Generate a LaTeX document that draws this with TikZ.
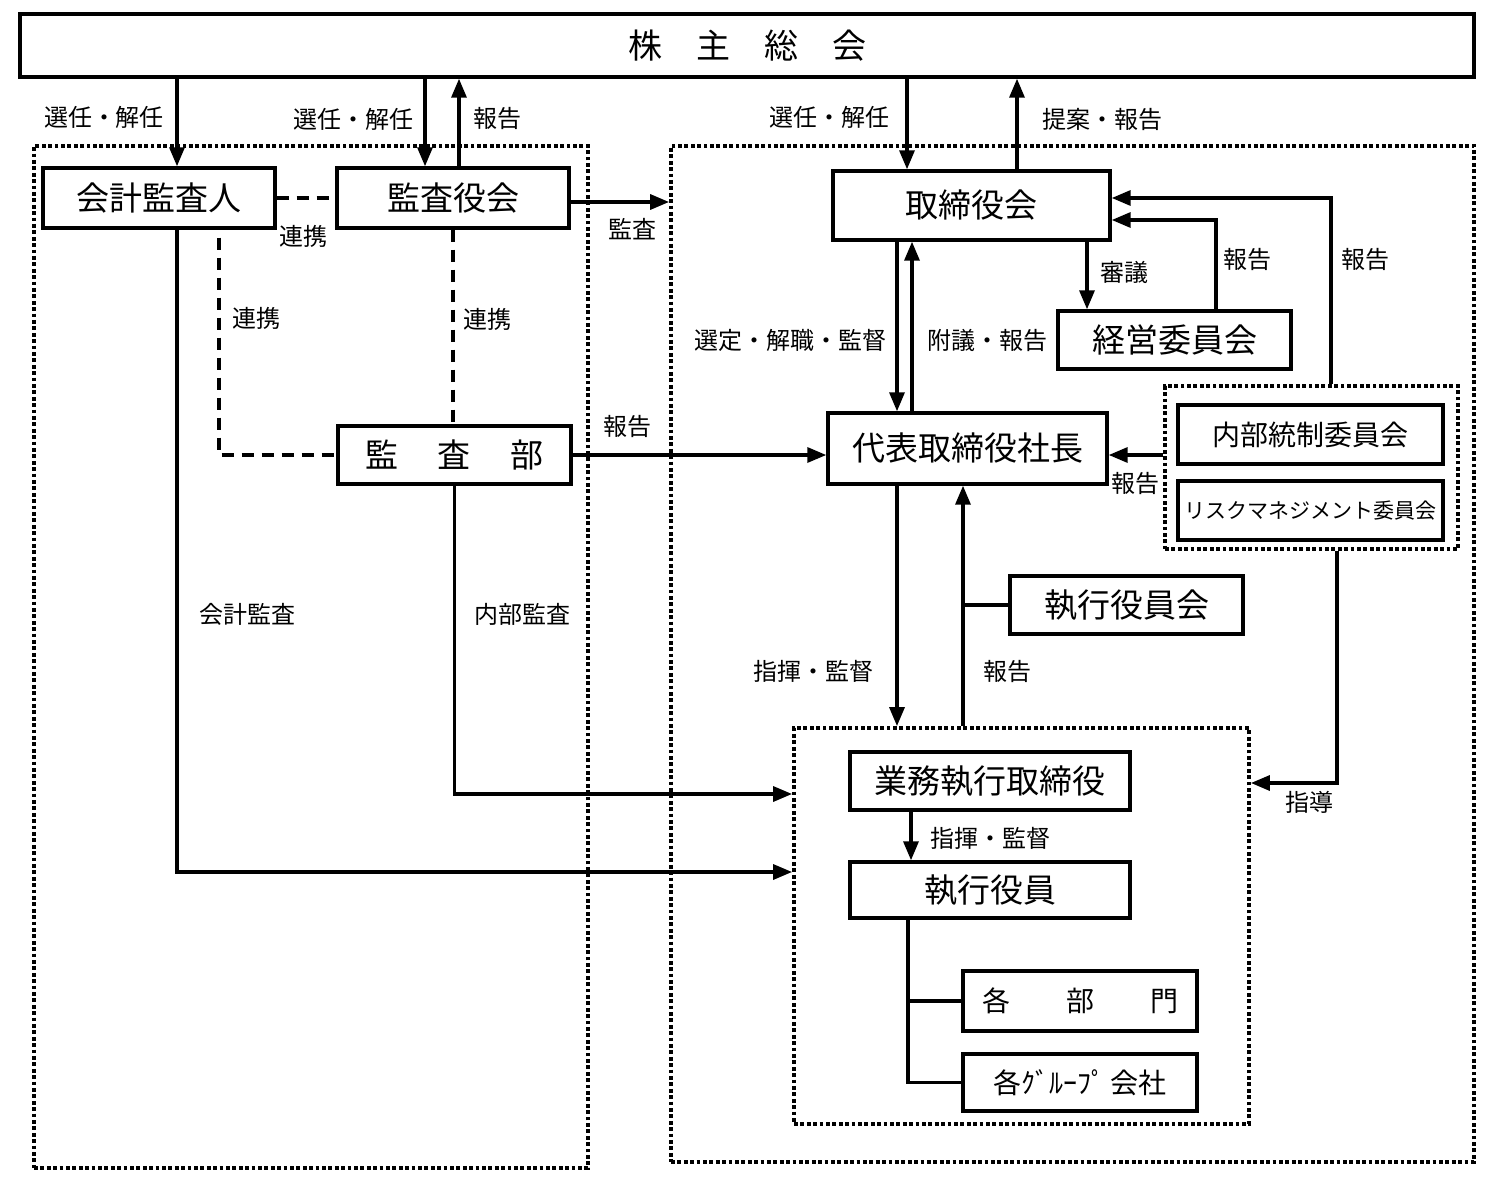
\documentclass[tikz,border=0pt]{standalone}
\usepackage{fontspec}
\setmainfont{Noto Sans CJK JP}
\usetikzlibrary{arrows.meta,calc}
\begin{document}
\begin{tikzpicture}[x=1pt,y=-1pt,
  box/.style n args={2}{draw, line width=3.4pt, minimum width=#1, minimum height=#2, inner sep=0pt, fill=white, font=\fontsize{33}{36}\selectfont},
  dotbox/.style n args={2}{draw, line width=3.8pt, dash pattern=on 3.8pt off 2.6pt, minimum width=#1, minimum height=#2, inner sep=0pt},
  lab/.style={font=\fontsize{24}{26}\selectfont, inner sep=0pt},
  conn/.style={line width=3.3pt},
  arr/.style={conn, -{Triangle[length=19pt,width=15pt]}},
  dashline/.style={line width=3.5pt, dash pattern=on 12pt off 8pt}
]
\fill[white] (0,0) rectangle (1500,1186);
\useasboundingbox (0,0) rectangle (1500,1186);

% dotted group frames
\node[dotbox={554}{1022}] (leftbox) at (311,657) {};
\node[dotbox={803}{1016}] (rightbox) at (1072.5,654) {};
\node[dotbox={293}{163}] (icbox) at (1311.5,467.5) {};
\node[dotbox={455}{396}] (exbox) at (1021.5,926) {};

% boxes
\node[box={1454}{63}, font=\fontsize{34}{36}\selectfont] (gm) at (747,45.5) {株　主　総　会};
\node[box={232}{60}] (kaikei) at (159,198) {会計監査人};
\node[box={232}{60}] (kansayaku) at (453,198) {監査役会};
\node[box={233}{58}] (kansabu) at (454.5,455) {監\hspace{40pt}査\hspace{40pt}部};
\node[box={277}{69}] (torishimari) at (971.5,205.5) {取締役会};
\node[box={233}{58}] (keiei) at (1174.5,340) {経営委員会};
\node[box={279}{71}] (daihyo) at (967.5,448.5) {代表取締役社長};
\node[box={265}{59}, font=\fontsize{28}{30}\selectfont] (naibu) at (1310.5,434.5) {内部統制委員会};
\node[box={265}{59}, font=\fontsize{21}{24}\selectfont] (risk) at (1310.5,510.5) {リスクマネジメント委員会};
\node[box={233}{58}] (shikkoukai) at (1126.5,605) {執行役員会};
\node[box={280}{58}] (gyomu) at (990,781) {業務執行取締役};
\node[box={280}{56}] (shikkou) at (990,890) {執行役員};
\node[box={234}{60}, font=\fontsize{28}{30}\selectfont] (kakubu) at (1080,1001) {各\hspace{56pt}部\hspace{56pt}門};
\node[box={234}{57}, font=\fontsize{28}{30}\selectfont] (group) at (1080,1082.5) {各ｸﾞﾙｰﾌﾟ\,会社};

% helper coordinates
\coordinate (xa) at (177,0);
\coordinate (xb) at (425,0);
\coordinate (xc) at (459,0);
\coordinate (xd) at (907,0);
\coordinate (xe) at (1017,0);
\coordinate (xf) at (897,0);
\coordinate (xg) at (912,0);
\coordinate (xh) at (1087,0);
\coordinate (xi) at (1216,0);
\coordinate (xj) at (1331,0);
\coordinate (xk) at (963,0);
\coordinate (xl) at (911,0);
\coordinate (xm) at (908,0);
\coordinate (xn) at (1337,0);
\coordinate (xo) at (219,0);
\coordinate (y198) at (0,198);
\coordinate (y220) at (0,220);
\coordinate (y455) at (0,455);
\coordinate (y783) at (0,783);
\coordinate (y794) at (0,794);
\coordinate (y872) at (0,872);
\coordinate (y202) at (0,202);

% connectors: shareholders meeting
\draw[arr] (gm.south -| xa) -- (kaikei.north -| xa);
\draw[arr] (gm.south -| xb) -- (kansayaku.north -| xb);
\draw[arr] (kansayaku.north -| xc) -- (gm.south -| xc);
\draw[arr] (gm.south -| xd) -- (torishimari.north -| xd);
\draw[arr] (torishimari.north -| xe) -- (gm.south -| xe);

% audit side
\draw[dashline] (kaikei.east) -- (kansayaku.west);
\draw[dashline] (kansayaku.south) -- (kansayaku.south |- kansabu.north);
\draw[dashline] ([yshift=-8pt]kaikei.south -| xo) -- (xo |- kansabu.west) -- (kansabu.west);
\draw[arr] (kansayaku.east |- y202) -- (rightbox.west |- y202);
\draw[arr] (kansabu.east) -- (kansabu.east -| daihyo.west);
\draw[arr] (kansabu.south) -- (kansabu.south |- y794) -- (exbox.west |- y794);
\draw[arr] (xa |- kaikei.south) -- (xa |- y872) -- (exbox.west |- y872);

% board side
\draw[arr] (torishimari.south -| xf) -- (daihyo.north -| xf);
\draw[arr] (daihyo.north -| xg) -- (torishimari.south -| xg);
\draw[arr] (torishimari.south -| xh) -- (keiei.north -| xh);
\draw[arr] (keiei.north -| xi) -- (xi |- y220) -- (torishimari.east |- y220);
\draw[arr] (icbox.north -| xj) -- (xj |- y198) -- (torishimari.east |- y198);
\draw[arr] (icbox.west |- y455) -- (daihyo.east |- y455);
\draw[arr] (daihyo.south -| xf) -- (exbox.north -| xf);
\draw[arr] (exbox.north -| xk) -- (daihyo.south -| xk);
\draw[conn] (shikkoukai.west) -- (shikkoukai.west -| xk);
\draw[arr] (gyomu.south -| xl) -- (shikkou.north -| xl);
\draw[conn] (shikkou.south -| xm) -- (group.west -| xm) -- (group.west);
\draw[conn] (kakubu.west -| xm) -- (kakubu.west);
\draw[arr] (icbox.south -| xn) -- (xn |- y783) -- (exbox.east |- y783);

% labels
\node[lab] (l1) at (104,117) {選任・解任};
\node[lab] (l2) at (353,119) {選任・解任};
\node[lab] (l3) at (497,118) {報告};
\node[lab] (l4) at (829,117) {選任・解任};
\node[lab] (l5) at (1102,119) {提案・報告};
\node[lab] (l6) at (303,236) {連携};
\node[lab] (l7) at (632,229) {監査};
\node[lab] (l8) at (256,318) {連携};
\node[lab] (l9) at (487,319) {連携};
\node[lab] (l10) at (627,426) {報告};
\node[lab] (l11) at (247,614) {会計監査};
\node[lab] (l12) at (522,614) {内部監査};
\node[lab] (l13) at (1124,272) {審議};
\node[lab] (l14) at (1247,259) {報告};
\node[lab] (l15) at (1365,259) {報告};
\node[lab] (l16) at (790,340) {選定・解職・監督};
\node[lab] (l17) at (987,340) {附議・報告};
\node[lab] (l18) at (1135,483) {報告};
\node[lab] (l19) at (813,671) {指揮・監督};
\node[lab] (l20) at (1007,671) {報告};
\node[lab] (l21) at (990,838) {指揮・監督};
\node[lab] (l22) at (1309,802) {指導};
\end{tikzpicture}
\end{document}
